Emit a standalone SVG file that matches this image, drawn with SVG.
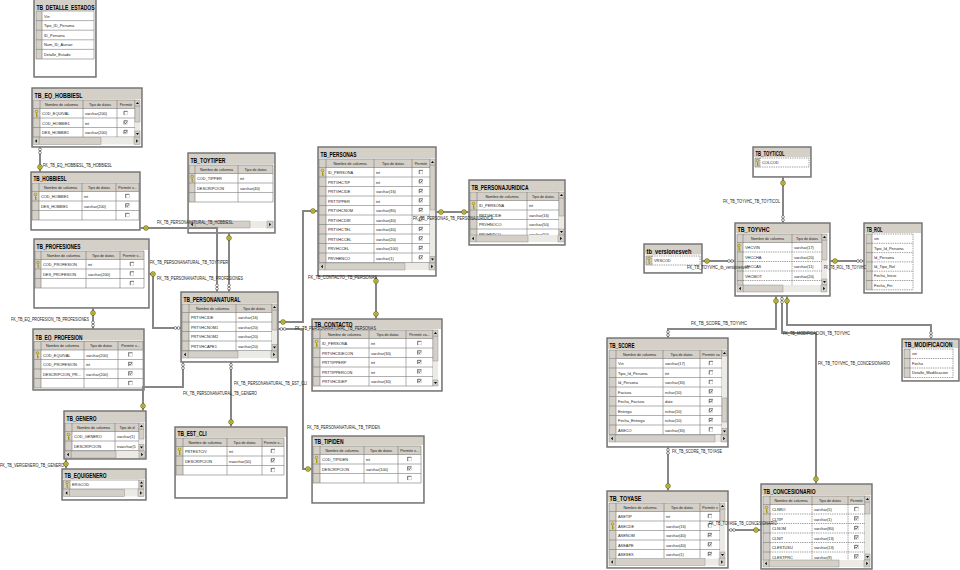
<svg xmlns="http://www.w3.org/2000/svg" xmlns:xlink="http://www.w3.org/1999/xlink" width="960" height="570" viewBox="0 0 960 570">
<style>
.fr{fill:#d4d0c8;stroke:#6f6f6f;stroke-width:1.4}
.bd{fill:#fff}
.hd{fill:#d4d0c8}
.gl{fill:none;stroke:#7b7b7b;stroke-width:.6}
.gd{fill:none;stroke:#5f5f5f;stroke-width:.6;stroke-dasharray:1.4 .9}
.tr{fill:#eceae5}
.bt{fill:#d4d0c8;stroke:#808080;stroke-width:.4}
.tt{font-family:"Liberation Sans",Arial,sans-serif;font-weight:bold;font-size:7.5px;fill:#000}
.c{font-family:"Liberation Sans",Arial,sans-serif;font-size:3.9px;fill:#222}
.h{font-family:"Liberation Sans",Arial,sans-serif;font-size:3.7px;fill:#222;text-anchor:middle}
.lb{font-family:"Liberation Sans",Arial,sans-serif;font-size:5px;fill:#222}
.cn{fill:none;stroke:#868686;stroke-width:2}
.io{fill:#fff;stroke:#444;stroke-width:.6}
</style>
<defs>
<g id="k"><circle cx="2.5" cy="2" r="1.3" fill="none" stroke="#a89400" stroke-width=".9"/><path d="M2.5,3.3V7.3M2.5,5.3H3.8M2.5,6.8H3.8" fill="none" stroke="#a89400" stroke-width=".9"/></g>
<g id="c0"><rect width="3.6" height="3.6" fill="#fff" stroke="#aaa" stroke-width=".4"/><path d="M0,3.6V0H3.6" fill="none" stroke="#333" stroke-width=".6"/></g>
<g id="c1"><rect width="3.6" height="3.6" fill="#fff" stroke="#aaa" stroke-width=".4"/><path d="M0,3.6V0H3.6" fill="none" stroke="#333" stroke-width=".6"/><path d="M0.7,1.8L1.6,2.8L3,0.8" fill="none" stroke="#000" stroke-width=".6"/></g>
<g id="bu"><rect width="5" height="6" class="bt"/><path d="M1,4H4L2.5,2z"/></g>
<g id="bd"><rect width="5" height="6" class="bt"/><path d="M1,2H4L2.5,4z"/></g>
<g id="bl"><rect width="6" height="7" class="bt"/><path d="M3.8,1.8V5.2L2,3.5z"/></g>
<g id="br"><rect width="6" height="7" class="bt"/><path d="M2.2,1.8V5.2L4,3.5z"/></g>
<g id="ck"><circle r="2.3" fill="#ddd55a" stroke="#5e5e00" stroke-width=".8"/><circle r=".7" fill="#5e5e00"/></g>
<g id="iv"><circle cy="-1.6" r="1.4" class="io"/><circle cy="1.6" r="1.4" class="io"/></g>
<g id="ih"><circle cx="-1.6" r="1.4" class="io"/><circle cx="1.6" r="1.4" class="io"/></g>
</defs>
<rect width="960" height="570" fill="#fff"/>

<g id="tb_detalle_estados" transform="translate(34,0)">
<rect class="fr" y="-2" width="62" height="79"/>
<text class="tt" x="2.5" y="9.5" textLength="58" lengthAdjust="spacingAndGlyphs">TB_DETALLE_ESTADOS</text>
<rect class="bd" x="1" y="10.5" width="60" height="65.5"/>
<rect class="hd" x="2" y="11" width="6" height="48"/>
<path class="gl" d="M2,11H60M2,20.6H60M2,30.2H60M2,39.8H60M2,49.4H60M2,59H60M2,11V59M8,11V59M60,11V59"/>
<text class="c" x="10" y="17.5">Vin</text>
<text class="c" x="10" y="27.1">Tipo_ID_Persona</text>
<text class="c" x="10" y="36.7">ID_Persona</text>
<text class="c" x="10" y="46.3">Num_ID_Asesor</text>
<text class="c" x="10" y="55.9">Detalle_Estado</text>
</g>

<g id="tb_eq_hobbiesl" transform="translate(32,88)">
<rect class="fr" width="110" height="59"/>
<text class="tt" x="2.5" y="10.2" textLength="48" lengthAdjust="spacingAndGlyphs">TB_EQ_HOBBIESL</text>
<rect class="bd" x="1" y="11" width="108" height="47"/>
<rect class="hd" x="1" y="12" width="102" height="8.5"/>
<rect class="hd" x="1" y="20.5" width="7" height="28.5"/>
<path class="gl" d="M1,12H103M1,20.5H103M1,30H103M1,39.5H103M1,49H103M1,12V49M8,12V49M51,12V49M85,12V49M103,12V49"/>
<text class="h" x="29.5" y="17.8">Nombre de columna</text><text class="h" x="68" y="17.8">Tipo de datos</text><text class="h" x="94" y="17.8">Permitir</text>
<use href="#k" x="2" y="21.5"/>
<text class="c" x="10" y="27">COD_EQUIVAL</text><text class="c" x="53" y="27">varchar(200)</text><use href="#c0" x="92" y="23.3"/>
<text class="c" x="10" y="36.5">COD_HOBBIE1</text><text class="c" x="53" y="36.5">int</text><use href="#c1" x="92" y="32.8"/>
<text class="c" x="10" y="46">DES_HOBBIE1</text><text class="c" x="53" y="46">varchar(200)</text><use href="#c1" x="92" y="42.3"/>
<rect class="tr" x="103" y="12" width="5" height="37"/><rect class="bt" x="103" y="18" width="5" height="16"/><use href="#bu" x="103" y="12"/><use href="#bd" x="103" y="43"/>
<rect class="tr" x="1" y="49.5" width="107" height="7"/><rect class="bt" x="7" y="49.5" width="62" height="7"/><use href="#bl" x="1" y="49.5"/><use href="#br" x="102" y="49.5"/>
</g>

<g id="tb_hobbiesl" transform="translate(31,172)">
<rect class="fr" width="109" height="58"/>
<text class="tt" x="2.5" y="9.3" textLength="33" lengthAdjust="spacingAndGlyphs">TB_HOBBIESL</text>
<rect class="bd" x="1" y="10" width="107" height="47"/>
<rect class="hd" x="1" y="11" width="107" height="8.5"/>
<rect class="hd" x="1" y="19.5" width="7" height="28.5"/>
<path class="gl" d="M1,11H108M1,19.5H108M1,29H108M1,38.5H108M1,48H108M1,11V48M8,11V48M51,11V48M85,11V48M108,11V48"/>
<text class="h" x="29.5" y="16.8">Nombre de columna</text><text class="h" x="68" y="16.8">Tipo de datos</text><text class="h" x="96.5" y="16.8">Permitir v...</text>
<use href="#k" x="2" y="20.5"/>
<text class="c" x="10" y="26">COD_HOBBIE1</text><text class="c" x="53" y="26">int</text><use href="#c0" x="94.7" y="22.3"/>
<text class="c" x="10" y="35.5">DES_HOBBIE1</text><text class="c" x="53" y="35.5">varchar(200)</text><use href="#c1" x="94.7" y="31.8"/>
<use href="#c0" x="94.7" y="41.3"/>
</g>

<g id="tb_profesiones" transform="translate(34,239)">
<rect class="fr" width="115" height="69"/>
<text class="tt" x="2.5" y="10.2" textLength="44" lengthAdjust="spacingAndGlyphs">TB_PROFESIONES</text>
<rect class="bd" x="1" y="11" width="113" height="57"/>
<rect class="hd" x="1" y="12" width="109" height="8.5"/>
<rect class="hd" x="1" y="20.5" width="6" height="28.5"/>
<path class="gl" d="M1,12H110M1,20.5H110M1,30H110M1,39.5H110M1,49H110M1,12V49M7,12V49M52,12V49M86,12V49M110,12V49"/>
<text class="h" x="29.5" y="17.8">Nombre de columna</text><text class="h" x="69" y="17.8">Tipo de datos</text><text class="h" x="98" y="17.8">Permitir v...</text>
<use href="#k" x="1.5" y="21.5"/>
<text class="c" x="9" y="27">COD_PROFESION</text><text class="c" x="54" y="27">int</text><use href="#c0" x="96.2" y="23.3"/>
<text class="c" x="9" y="36.5">DES_PROFESION</text><text class="c" x="54" y="36.5">varchar(200)</text><use href="#c0" x="96.2" y="32.8"/>
<use href="#c0" x="96.2" y="42.3"/>
</g>

<g id="tb_eq_profesion" transform="translate(33,329)">
<rect class="fr" width="111" height="61"/>
<text class="tt" x="2.5" y="10.7" textLength="47" lengthAdjust="spacingAndGlyphs">TB_EQ_PROFESION</text>
<rect class="bd" x="1" y="11.5" width="109" height="48.5"/>
<rect class="hd" x="1" y="12.5" width="109" height="8.5"/>
<rect class="hd" x="1" y="21" width="7" height="38"/>
<path class="gl" d="M1,12.5H110M1,21H110M1,30.5H110M1,40H110M1,49.5H110M1,59H110M1,12.5V59M8,12.5V59M51,12.5V59M85,12.5V59M110,12.5V59"/>
<text class="h" x="29.5" y="18.3">Nombre de columna</text><text class="h" x="68" y="18.3">Tipo de datos</text><text class="h" x="97.5" y="18.3">Permitir v...</text>
<use href="#k" x="2" y="22"/>
<text class="c" x="10" y="27.5">COD_EQUIVAL</text><text class="c" x="53" y="27.5">varchar(200)</text><use href="#c0" x="95.7" y="23.8"/>
<text class="c" x="10" y="37">COD_PROFESION</text><text class="c" x="53" y="37">int</text><use href="#c1" x="95.7" y="33.3"/>
<text class="c" x="10" y="46.5">DESCRIPCION_PR...</text><text class="c" x="53" y="46.5">varchar(200)</text><use href="#c1" x="95.7" y="42.8"/>
<use href="#c0" x="95.7" y="52.3"/>
</g>

<g id="tb_genero" transform="translate(64,411)">
<rect class="fr" width="82" height="48"/>
<text class="tt" x="2.5" y="10.2" textLength="30" lengthAdjust="spacingAndGlyphs">TB_GENERO</text>
<rect class="bd" x="1" y="11" width="80" height="36"/>
<rect class="hd" x="1" y="12" width="74" height="8.5"/>
<rect class="hd" x="1" y="20.5" width="7" height="19"/>
<path class="gl" d="M1,12H75M1,20.5H75M1,30H75M1,39.5H75M1,12V39.5M8,12V39.5M51,12V39.5M75,12V39.5"/>
<text class="h" x="29.5" y="17.8">Nombre de columna</text><text class="h" x="63" y="17.8">Tipo de d</text>
<use href="#k" x="2" y="21.5"/>
<text class="c" x="10" y="27">COD_GENERO</text><text class="c" x="53" y="27">varchar(1)</text>
<text class="c" x="10" y="36.5">DESCRIPCION</text><text class="c" x="53" y="36.5">nvarchar(5</text>
<rect class="tr" x="75" y="12" width="5" height="27.5"/><rect class="bt" x="75" y="18" width="5" height="10"/><use href="#bu" x="75" y="12"/><use href="#bd" x="75" y="33.5"/>
<rect class="tr" x="1" y="40" width="80" height="7"/><rect class="bt" x="7" y="40" width="45" height="7"/><use href="#bl" x="1" y="40"/><use href="#br" x="75" y="40"/>
</g>

<g id="tb_equigenero" transform="translate(62,469)">
<rect class="fr" width="84" height="31"/>
<text class="tt" x="2.5" y="9" textLength="42" lengthAdjust="spacingAndGlyphs">TB_EQUIGENERO</text>
<rect class="bd" x="1" y="10" width="82" height="20"/>
<rect class="hd" x="1.5" y="11" width="6.5" height="9"/>
<path class="gl" d="M1.5,11H77M1.5,20H77M1.5,11V20M8,11V20M77,11V20"/>
<use href="#k" x="2.5" y="11.5"/>
<text class="c" x="10" y="17.3">ERGCOD</text>
<rect class="bt" x="77" y="11" width="5" height="9"/><path d="M78,14.5H81L79.5,12.5zM78,16.5H81L79.5,18.5z"/>
<rect class="tr" x="1.5" y="20.5" width="80.5" height="7"/><rect class="bt" x="7.5" y="20.5" width="55" height="7"/><use href="#bl" x="1.5" y="20.5"/><use href="#br" x="76" y="20.5"/>
</g>

<g id="tb_toytiper" transform="translate(188,153)">
<rect class="fr" width="87" height="80"/>
<text class="tt" x="2.5" y="10.2" textLength="35" lengthAdjust="spacingAndGlyphs">TB_TOYTIPER</text>
<rect class="bd" x="1" y="11" width="85" height="68"/>
<rect class="hd" x="1" y="12" width="84" height="8.5"/>
<rect class="hd" x="1" y="20.5" width="6" height="28.5"/>
<path class="gl" d="M1,12H85M1,20.5H85M1,30H85M1,39.5H85M1,49H85M1,12V49M7,12V49M50,12V49M85,12V49"/>
<text class="h" x="28.5" y="17.8">Nombre de columna</text><text class="h" x="67.5" y="17.8">Tipo de datos</text>
<use href="#k" x="1.5" y="21.5"/>
<text class="c" x="9" y="27">COD_TIPPER</text><text class="c" x="52" y="27">int</text>
<text class="c" x="9" y="36.5">DESCRIPCION</text><text class="c" x="52" y="36.5">varchar(40)</text>
<rect class="tr" x="1" y="68" width="85" height="7"/><rect class="bt" x="7" y="68" width="55" height="7"/><use href="#bl" x="1" y="68"/><use href="#br" x="79" y="68"/>
</g>

<g id="tb_personas" transform="translate(318,147)">
<rect class="fr" width="118" height="129"/>
<text class="tt" x="2.5" y="10.2" textLength="36" lengthAdjust="spacingAndGlyphs">TB_PERSONAS</text>
<rect class="bd" x="1" y="11" width="116" height="117"/>
<rect class="hd" x="1" y="12" width="111" height="8.5"/>
<rect class="hd" x="1" y="20.5" width="7" height="95"/>
<path class="gl" d="M1,12H112M1,20.5H112M1,30H112M1,39.5H112M1,49H112M1,58.5H112M1,68H112M1,77.5H112M1,87H112M1,96.5H112M1,106H112M1,115.5H112M1,12V115.5M8,12V115.5M56,12V115.5M94,12V115.5M112,12V115.5"/>
<text class="h" x="32" y="17.8">Nombre de columna</text><text class="h" x="75" y="17.8">Tipo de datos</text><text class="h" x="103" y="17.8">Permitir</text>
<use href="#k" x="2" y="21.5"/>
<text class="c" x="10" y="27">ID_PERSONA</text><text class="c" x="58" y="27">int</text><use href="#c0" x="101.2" y="23.3"/>
<text class="c" x="10" y="36.5">PRTVHCTIP</text><text class="c" x="58" y="36.5">int</text><use href="#c1" x="101.2" y="32.8"/>
<text class="c" x="10" y="46">PRTVHCIDE</text><text class="c" x="58" y="46">varchar(16)</text><use href="#c1" x="101.2" y="42.3"/>
<text class="c" x="10" y="55.5">PRTTIPPER</text><text class="c" x="58" y="55.5">int</text><use href="#c1" x="101.2" y="51.8"/>
<text class="c" x="10" y="65">PRTVHCNOM</text><text class="c" x="58" y="65">varchar(80)</text><use href="#c1" x="101.2" y="61.3"/>
<text class="c" x="10" y="74.5">PRTVHCDIR</text><text class="c" x="58" y="74.5">varchar(40)</text><use href="#c1" x="101.2" y="70.8"/>
<text class="c" x="10" y="84">PRTVHCTEL</text><text class="c" x="58" y="84">varchar(40)</text><use href="#c1" x="101.2" y="80.3"/>
<text class="c" x="10" y="93.5">PRTVHCCEL</text><text class="c" x="58" y="93.5">varchar(20)</text><use href="#c1" x="101.2" y="89.8"/>
<text class="c" x="10" y="103">PRVHCCEL</text><text class="c" x="58" y="103">varchar(100)</text><use href="#c1" x="101.2" y="99.3"/>
<text class="c" x="10" y="112.5">PRVHENCO</text><text class="c" x="58" y="112.5">varchar(1)</text><use href="#c1" x="101.2" y="108.8"/>
<rect class="tr" x="112" y="12" width="5" height="103.5"/><rect class="bt" x="112" y="18" width="5" height="45"/><use href="#bu" x="112" y="12"/><use href="#bd" x="112" y="109.5"/>
<rect class="tr" x="1" y="116" width="116" height="7"/><rect class="bt" x="7" y="116" width="80" height="7"/><use href="#bl" x="1" y="116"/><use href="#br" x="111" y="116"/>
</g>

<g id="tb_personajuridica" transform="translate(469,180)">
<rect class="fr" width="96" height="65"/>
<text class="tt" x="2.5" y="10.2" textLength="57" lengthAdjust="spacingAndGlyphs">TB_PERSONAJURIDICA</text>
<rect class="bd" x="1" y="11" width="94" height="53"/>
<rect class="hd" x="1" y="12" width="89" height="8.5"/>
<rect class="hd" x="1" y="20.5" width="7" height="35"/>
<path class="gl" d="M1,12H90M1,20.5H90M1,30H90M1,39.5H90M1,49H90M1,12V55M8,12V55M58,12V55M90,12V55"/>
<text class="h" x="33" y="17.8">Nombre de columna</text><text class="h" x="74" y="17.8">Tipo de datos</text>
<use href="#k" x="2" y="21.5"/>
<text class="c" x="10" y="27">ID_PERSONA</text><text class="c" x="60" y="27">int</text>
<text class="c" x="10" y="36.5">PRTVHCIDE</text><text class="c" x="60" y="36.5">varchar(16)</text>
<text class="c" x="10" y="46">PRVHNOCO</text><text class="c" x="60" y="46">varchar(50)</text>
<text class="c" x="10" y="55.5">PRVHNTCO</text><text class="c" x="60" y="55.5">varchar(50)</text>
<rect class="tr" x="90" y="12" width="5" height="43"/><rect class="bt" x="90" y="18" width="5" height="18"/><use href="#bu" x="90" y="12"/><use href="#bd" x="90" y="49"/>
<rect class="tr" x="1" y="55" width="94" height="7"/><rect class="bt" x="7" y="55" width="52" height="7"/><use href="#bl" x="1" y="55"/><use href="#br" x="89" y="55"/>
</g>

<g id="tb_personanatural" transform="translate(181,292)">
<rect class="fr" width="97" height="70"/>
<text class="tt" x="2.5" y="10.2" textLength="57" lengthAdjust="spacingAndGlyphs">TB_PERSONANATURAL</text>
<rect class="bd" x="1" y="11" width="95" height="58"/>
<rect class="hd" x="1" y="12" width="90" height="8.5"/>
<rect class="hd" x="1" y="20.5" width="7" height="38"/>
<path class="gl" d="M1,12H91M1,20.5H91M1,30H91M1,39.5H91M1,49H91M1,58.5H91M1,12V58.5M8,12V58.5M55,12V58.5M91,12V58.5"/>
<text class="h" x="31.5" y="17.8">Nombre de columna</text><text class="h" x="73" y="17.8">Tipo de datos</text>
<text class="c" x="10" y="27">PRTVHCIDE</text><text class="c" x="57" y="27">varchar(16)</text>
<text class="c" x="10" y="36.5">PRTVHCNOM1</text><text class="c" x="57" y="36.5">varchar(20)</text>
<text class="c" x="10" y="46">PRTVHCNOM2</text><text class="c" x="57" y="46">varchar(20)</text>
<text class="c" x="10" y="55.5">PRTVHCAPE1</text><text class="c" x="57" y="55.5">varchar(20)</text>
<rect class="tr" x="91" y="12" width="5" height="46.5"/><rect class="bt" x="91" y="18" width="5" height="20"/><use href="#bu" x="91" y="12"/><use href="#bd" x="91" y="52.5"/>
<rect class="tr" x="1" y="59" width="95" height="7"/><rect class="bt" x="7" y="59" width="50" height="7"/><use href="#bl" x="1" y="59"/><use href="#br" x="90" y="59"/>
</g>

<g id="tb_contacto" transform="translate(312,319)">
<rect class="fr" width="130" height="72"/>
<text class="tt" x="2.5" y="8" textLength="38" lengthAdjust="spacingAndGlyphs">TB_CONTACTO</text>
<rect class="bd" x="1" y="10" width="128" height="61"/>
<rect class="hd" x="1" y="11" width="120" height="8.5"/>
<rect class="hd" x="1" y="19.5" width="7" height="47.5"/>
<path class="gl" d="M1,11H121M1,19.5H121M1,29H121M1,38.5H121M1,48H121M1,57.5H121M1,67H121M1,11V67M8,11V67M57,11V67M94,11V67M121,11V67"/>
<text class="h" x="32.5" y="16.8">Nombre de columna</text><text class="h" x="75.5" y="16.8">Tipo de datos</text><text class="h" x="107.5" y="16.8">Permitir va...</text>
<use href="#k" x="2" y="20.5"/>
<text class="c" x="10" y="26">ID_PERSONA</text><text class="c" x="59" y="26">int</text><use href="#c0" x="105.7" y="22.3"/>
<text class="c" x="10" y="35.5">PRTVHCIDECON</text><text class="c" x="59" y="35.5">varchar(30)</text><use href="#c1" x="105.7" y="31.8"/>
<text class="c" x="10" y="45">PRTTIPPERP</text><text class="c" x="59" y="45">int</text><use href="#c1" x="105.7" y="41.3"/>
<text class="c" x="10" y="54.5">PRTTIPPERCON</text><text class="c" x="59" y="54.5">int</text><use href="#c1" x="105.7" y="50.8"/>
<text class="c" x="10" y="64">PRTVHCIDEP</text><text class="c" x="59" y="64">varchar(30)</text><use href="#c1" x="105.7" y="60.3"/>
<rect class="tr" x="121" y="11" width="5" height="56"/><rect class="bt" x="121" y="17" width="5" height="25"/><use href="#bu" x="121" y="11"/><use href="#bd" x="121" y="61"/>
</g>

<g id="tb_est_cli" transform="translate(175,427)">
<rect class="fr" width="112" height="71"/>
<text class="tt" x="2.5" y="9.2" textLength="29" lengthAdjust="spacingAndGlyphs">TB_EST_CLI</text>
<rect class="bd" x="1" y="10" width="110" height="60"/>
<rect class="hd" x="1" y="11" width="108" height="8.5"/>
<rect class="hd" x="1" y="19.5" width="7" height="28.5"/>
<path class="gl" d="M1,11H109M1,19.5H109M1,29H109M1,38.5H109M1,48H109M1,11V48M8,11V48M52,11V48M87,11V48M109,11V48"/>
<text class="h" x="30" y="16.8">Nombre de columna</text><text class="h" x="69.5" y="16.8">Tipo de datos</text><text class="h" x="98" y="16.8">Permitir v...</text>
<use href="#k" x="2" y="20.5"/>
<text class="c" x="10" y="26">PRTESTCIV</text><text class="c" x="54" y="26">int</text><use href="#c0" x="96.2" y="22.3"/>
<text class="c" x="10" y="35.5">DESCRIPCION</text><text class="c" x="54" y="35.5">nvarchar(50)</text><use href="#c1" x="96.2" y="31.8"/>
<use href="#c0" x="96.2" y="41.3"/>
</g>

<g id="tb_tipiden" transform="translate(312,436)">
<rect class="fr" width="112" height="67"/>
<text class="tt" x="2.5" y="8.4" textLength="29" lengthAdjust="spacingAndGlyphs">TB_TIPIDEN</text>
<rect class="bd" x="1" y="9" width="110" height="57"/>
<rect class="hd" x="1" y="10" width="108" height="8.5"/>
<rect class="hd" x="1" y="18.5" width="7" height="28.5"/>
<path class="gl" d="M1,10H109M1,18.5H109M1,28H109M1,37.5H109M1,47H109M1,10V47M8,10V47M52,10V47M86,10V47M109,10V47"/>
<text class="h" x="30" y="15.8">Nombre de columna</text><text class="h" x="69" y="15.8">Tipo de datos</text><text class="h" x="97.5" y="15.8">Permitir v...</text>
<use href="#k" x="2" y="19.5"/>
<text class="c" x="10" y="25">COD_TIPIDEN</text><text class="c" x="54" y="25">int</text><use href="#c0" x="95.7" y="21.3"/>
<text class="c" x="10" y="34.5">DESCRIPCION</text><text class="c" x="54" y="34.5">varchar(100)</text><use href="#c1" x="95.7" y="30.8"/>
<use href="#c0" x="95.7" y="40.3"/>
</g>

<g id="tb_toyticol" transform="translate(753,147)">
<rect class="fr" width="58" height="30"/>
<text class="tt" x="2.5" y="9.2" textLength="29" lengthAdjust="spacingAndGlyphs">TB_TOYTICOL</text>
<rect class="bd" x="1" y="10" width="56" height="19"/>
<rect class="hd" x="2" y="11" width="5" height="9"/>
<path class="gl" d="M2,11H7M2,20H7M2,11V20"/>
<rect class="gd" x="7" y="11" width="49" height="9"/>
<use href="#k" x="2" y="11.5"/>
<text class="c" x="9" y="17.3">COLCOD</text>
</g>

<g id="tb_toyvhc" transform="translate(735,223)">
<rect class="fr" width="95" height="73"/>
<text class="tt" x="2.5" y="9.2" textLength="32" lengthAdjust="spacingAndGlyphs">TB_TOYVHC</text>
<rect class="bd" x="1" y="10" width="93" height="62"/>
<rect class="hd" x="2" y="11" width="85" height="8.5"/>
<rect class="hd" x="2" y="19.5" width="6" height="42.5"/>
<path class="gl" d="M2,11H87M2,19.5H87M2,11V62M8,11V62M57,11V19.5M87,11V62M2,29H8M2,38.5H8M2,48H8M2,57.5H8"/>
<path class="gd" d="M8,29H87M8,38.5H87M8,48H87M8,57.5H87M57,19.5V62"/>
<text class="h" x="32.5" y="16.8">Nombre de columna</text><text class="h" x="72" y="16.8">Tipo de datos</text>
<use href="#k" x="1.5" y="20.5"/>
<text class="c" x="10" y="26">VHCVIN</text><text class="c" x="59" y="26">varchar(17)</text>
<text class="c" x="10" y="35.5">VHCCHA</text><text class="c" x="59" y="35.5">varchar(20)</text>
<text class="c" x="10" y="45">VHCCAS</text><text class="c" x="59" y="45">varchar(11)</text>
<text class="c" x="10" y="54.5">VHCMOT</text><text class="c" x="59" y="54.5">varchar(20)</text>
<rect class="tr" x="87" y="11" width="5" height="51"/><rect class="bt" x="87" y="17" width="5" height="20"/><use href="#bu" x="87" y="11"/><use href="#bd" x="87" y="56"/>
<rect class="tr" x="2" y="62" width="90" height="7"/><rect class="bt" x="8" y="62" width="40" height="7"/><use href="#bl" x="2" y="62"/><use href="#br" x="86" y="62"/>
</g>

<g id="tb_versionesveh" transform="translate(644,244)">
<rect class="fr" width="58" height="29"/>
<text class="tt" x="2.5" y="9.7" textLength="45" lengthAdjust="spacingAndGlyphs">tb_versionesveh</text>
<rect class="bd" x="1" y="10.5" width="56" height="17.5"/>
<rect class="hd" x="2" y="12" width="6" height="9"/>
<path class="gl" d="M2,12H8M2,21H8M2,12V21"/>
<rect class="gd" x="8" y="12" width="48" height="9"/>
<use href="#k" x="2.5" y="12.5"/>
<text class="c" x="10" y="18.3">VRSCOD</text>
</g>

<g id="tb_rol" transform="translate(864,223)">
<rect class="fr" width="58" height="70"/>
<text class="tt" x="2.5" y="9.2" textLength="16" lengthAdjust="spacingAndGlyphs">TB_ROL</text>
<rect class="bd" x="1" y="10" width="56" height="59"/>
<rect class="hd" x="2" y="11" width="6" height="55.8"/>
<path class="gl" d="M2,11V66.8M8,11V66.8M2,11H8M2,20.3H8M2,29.6H8M2,38.9H8M2,48.2H8M2,57.5H8M2,66.8H8"/>
<path class="gd" d="M8,11H49M8,20.3H49M8,29.6H49M8,38.9H49M8,48.2H49M8,57.5H49M8,66.8H49M49,11V66.8"/>
<text class="c" x="10" y="17.2">vin</text>
<text class="c" x="10" y="26.5">Tipo_Id_Persona</text>
<text class="c" x="10" y="35.8">Id_Persona</text>
<text class="c" x="10" y="45.1">Id_Tipo_Rol</text>
<text class="c" x="10" y="54.4">Fecha_Inicio</text>
<text class="c" x="10" y="63.7">Fecha_Fin</text>
</g>

<g id="tb_modificacion" transform="translate(902,339)">
<rect class="fr" width="57" height="42"/>
<text class="tt" x="2.5" y="8.2" textLength="48" lengthAdjust="spacingAndGlyphs">TB_MODIFICACION</text>
<rect class="bd" x="1" y="9" width="55" height="32"/>
<rect class="hd" x="2" y="10" width="6" height="28.5"/>
<path class="gl" d="M2,10V38.5M8,10V38.5M2,10H8M2,19.5H8M2,29H8M2,38.5H8"/>
<path class="gd" d="M8,10H51M8,19.5H51M8,29H51M8,38.5H51M51,10V38.5"/>
<text class="c" x="10" y="16.3">vin</text>
<text class="c" x="10" y="25.8">Fecha</text>
<text class="c" x="10" y="35.3">Detalle_Modificacion</text>
</g>

<g id="tb_score" transform="translate(607,338)">
<rect class="fr" width="121" height="109"/>
<text class="tt" x="2.5" y="10.2" textLength="25" lengthAdjust="spacingAndGlyphs">TB_SCORE</text>
<rect class="bd" x="1" y="11" width="119" height="97"/>
<rect class="hd" x="2" y="12" width="113" height="8.5"/>
<rect class="hd" x="2" y="20.5" width="7" height="76"/>
<path class="gl" d="M2,12H115M2,20.5H115M2,30H115M2,39.5H115M2,49H115M2,58.5H115M2,68H115M2,77.5H115M2,87H115M2,96.5H115M2,12V96.5M9,12V96.5M56,12V96.5M93,12V96.5M115,12V96.5"/>
<text class="h" x="32.5" y="17.8">Nombre de columna</text><text class="h" x="74.5" y="17.8">Tipo de datos</text><text class="h" x="104" y="17.8">Permitir va</text>
<text class="c" x="11" y="27">Vin</text><text class="c" x="58" y="27">varchar(17)</text><use href="#c0" x="102.2" y="23.3"/>
<text class="c" x="11" y="36.5">Tipo_Id_Persona</text><text class="c" x="58" y="36.5">int</text><use href="#c0" x="102.2" y="32.8"/>
<text class="c" x="11" y="46">Id_Persona</text><text class="c" x="58" y="46">varchar(30)</text><use href="#c0" x="102.2" y="42.3"/>
<text class="c" x="11" y="55.5">Factura</text><text class="c" x="58" y="55.5">nchar(10)</text><use href="#c1" x="102.2" y="51.8"/>
<text class="c" x="11" y="65">Fecha_Factura</text><text class="c" x="58" y="65">date</text><use href="#c1" x="102.2" y="61.3"/>
<text class="c" x="11" y="74.5">Entrega</text><text class="c" x="58" y="74.5">nchar(10)</text><use href="#c1" x="102.2" y="70.8"/>
<text class="c" x="11" y="84">Fecha_Entrega</text><text class="c" x="58" y="84">nchar(10)</text><use href="#c1" x="102.2" y="80.3"/>
<text class="c" x="11" y="93.5">ASECO</text><text class="c" x="58" y="93.5">varchar(30)</text><use href="#c0" x="102.2" y="89.8"/>
<rect class="tr" x="115" y="12" width="5" height="84.5"/><rect class="bt" x="115" y="60" width="5" height="24"/><use href="#bu" x="115" y="12"/><use href="#bd" x="115" y="90.5"/>
<rect class="tr" x="2" y="97" width="118" height="7"/><rect class="bt" x="8" y="97" width="100" height="7"/><use href="#bl" x="2" y="97"/><use href="#br" x="114" y="97"/>
</g>

<g id="tb_toyase" transform="translate(607,491)">
<rect class="fr" width="121" height="77"/>
<text class="tt" x="2.5" y="10.2" textLength="32" lengthAdjust="spacingAndGlyphs">TB_TOYASE</text>
<rect class="bd" x="1" y="11" width="119" height="65"/>
<rect class="hd" x="2" y="12" width="111" height="8.5"/>
<rect class="hd" x="2" y="20.5" width="7" height="47.5"/>
<path class="gl" d="M2,12H113M2,20.5H113M2,30H113M2,39.5H113M2,49H113M2,58.5H113M2,12V67M9,12V67M57,12V67M93,12V67M113,12V67"/>
<text class="h" x="33" y="17.8">Nombre de columna</text><text class="h" x="75" y="17.8">Tipo de datos</text><text class="h" x="103" y="17.8">Permitir v</text>
<text class="c" x="11" y="27">ASETIP</text><text class="c" x="59" y="27">int</text><use href="#c0" x="101.2" y="23.3"/>
<use href="#k" x="3" y="31"/>
<text class="c" x="11" y="36.5">ASECDE</text><text class="c" x="59" y="36.5">varchar(16)</text><use href="#c0" x="101.2" y="32.8"/>
<text class="c" x="11" y="46">ASENOM</text><text class="c" x="59" y="46">varchar(40)</text><use href="#c1" x="101.2" y="42.3"/>
<text class="c" x="11" y="55.5">ASEAPE</text><text class="c" x="59" y="55.5">varchar(40)</text><use href="#c1" x="101.2" y="51.8"/>
<text class="c" x="11" y="65">ASESEX</text><text class="c" x="59" y="65">varchar(1)</text><use href="#c1" x="101.2" y="61.3"/>
<rect class="tr" x="113" y="12" width="5" height="55"/><rect class="bt" x="113" y="18" width="5" height="12"/><use href="#bu" x="113" y="12"/><use href="#bd" x="113" y="61"/>
<rect class="tr" x="2" y="67.5" width="116" height="7"/><rect class="bt" x="8" y="67.5" width="90" height="7"/><use href="#bl" x="2" y="67.5"/><use href="#br" x="112" y="67.5"/>
</g>

<g id="tb_concesionario" transform="translate(761,484)">
<rect class="fr" width="111" height="85"/>
<text class="tt" x="2.5" y="10.2" textLength="52" lengthAdjust="spacingAndGlyphs">TB_CONCESIONARIO</text>
<rect class="bd" x="1" y="11" width="109" height="73"/>
<rect class="hd" x="2" y="12" width="102" height="8.5"/>
<rect class="hd" x="2" y="20.5" width="7" height="55.5"/>
<path class="gl" d="M2,12H104M2,20.5H104M2,12V76M9,12V76M51,12V20.5M87,12V20.5M104,12V76M2,30H9M2,39.5H9M2,49H9M2,58.5H9M2,68H9"/>
<path class="gd" d="M9,30H104M9,39.5H104M9,49H104M9,58.5H104M9,68H104M51,20.5V76M87,20.5V76"/>
<text class="h" x="30" y="17.8">Nombre de columna</text><text class="h" x="69" y="17.8">Tipo de datos</text><text class="h" x="95.5" y="17.8">Permitir</text>
<use href="#k" x="3" y="21.5"/>
<text class="c" x="11" y="27">CLNRO</text><text class="c" x="53" y="27">varchar(5)</text><use href="#c0" x="93.7" y="23.3"/>
<text class="c" x="11" y="36.5">CLTIP</text><text class="c" x="53" y="36.5">varchar(1)</text><use href="#c1" x="93.7" y="32.8"/>
<text class="c" x="11" y="46">CLNOM</text><text class="c" x="53" y="46">varchar(80)</text><use href="#c1" x="93.7" y="42.3"/>
<text class="c" x="11" y="55.5">CLNIT</text><text class="c" x="53" y="55.5">varchar(13)</text><use href="#c1" x="93.7" y="51.8"/>
<text class="c" x="11" y="65">CLESTUSU</text><text class="c" x="53" y="65">varchar(13)</text><use href="#c1" x="93.7" y="61.3"/>
<text class="c" x="11" y="74.5">CLESTPRC</text><text class="c" x="53" y="74.5">varchar(9)</text><use href="#c1" x="93.7" y="70.8"/>
<rect class="tr" x="104" y="12" width="5" height="64"/><rect class="bt" x="104" y="18" width="5" height="12"/><use href="#bu" x="104" y="12"/><use href="#bd" x="104" y="70"/>
<rect class="tr" x="2" y="76" width="107" height="7"/><rect class="bt" x="8" y="76" width="70" height="7"/><use href="#bl" x="2" y="76"/><use href="#br" x="103" y="76"/>
</g>

<g id="connectors">
<path class="cn" d="M40,147V172"/><use href="#iv" x="40" y="151"/><use href="#ck" x="40" y="167"/>
<path class="cn" d="M140,228H217V292"/><use href="#ck" x="146" y="228"/><use href="#iv" x="217" y="287"/>
<path class="cn" d="M229,233V292"/><use href="#ck" x="229" y="238"/><use href="#iv" x="229" y="287"/>
<path class="cn" d="M149,274H153V328H181"/><use href="#ck" x="153" y="274"/><use href="#ih" x="177" y="328"/>
<path class="cn" d="M93,308V329"/><use href="#ck" x="93" y="313"/><use href="#iv" x="93" y="324"/>
<path class="cn" d="M183,362V387H143V411"/><use href="#iv" x="183" y="366.5"/><use href="#ck" x="143" y="406"/>
<path class="cn" d="M231,362V427"/><use href="#iv" x="231" y="366.5"/><use href="#ck" x="231" y="422"/>
<path class="cn" d="M66,459V469"/><use href="#ck" x="66" y="464"/>
<path class="cn" d="M278,322H303V211H318"/><use href="#ck" x="283" y="322"/><use href="#ck" x="313" y="211"/>
<path class="cn" d="M278,329H303V469H312"/><use href="#ih" x="283" y="329"/><use href="#ck" x="308" y="469"/>
<path class="cn" d="M376,276V319"/><use href="#ck" x="376" y="281"/><use href="#ck" x="376" y="314"/>
<path class="cn" d="M436,212H469"/><use href="#ck" x="441" y="212"/><use href="#ck" x="464" y="212"/>
<path class="cn" d="M783,177V223"/><use href="#ck" x="783" y="183"/><use href="#iv" x="783" y="218.5"/>
<path class="cn" d="M702,261H735"/><use href="#ck" x="707" y="261"/><use href="#ih" x="730.5" y="261"/>
<path class="cn" d="M830,261H864"/><use href="#ck" x="835" y="261"/><use href="#ih" x="859.5" y="261"/>
<path class="cn" d="M776,296V329H668V338"/><use href="#ck" x="776" y="301"/><use href="#iv" x="668" y="333.5"/>
<path class="cn" d="M787,296V325H931V339"/><use href="#ck" x="787" y="301"/><use href="#iv" x="931" y="334.5"/>
<path class="cn" d="M782,296V333H816V484"/><use href="#iv" x="782" y="300.5"/><use href="#ck" x="816" y="479"/>
<path class="cn" d="M668,447V491"/><use href="#iv" x="668" y="451.5"/><use href="#ck" x="668" y="486"/>
<path class="cn" d="M728,530H761"/><use href="#ih" x="732.5" y="530"/><use href="#ck" x="756" y="530"/>
<text class="lb" x="43" y="167" textLength="69" lengthAdjust="spacingAndGlyphs">FK_TB_EQ_HOBBIESL_TB_HOBBIESL</text>
<text class="lb" x="157" y="224" textLength="76" lengthAdjust="spacingAndGlyphs">FK_TB_PERSONANATURAL_TB_HOBBIESL</text>
<text class="lb" x="150" y="264" textLength="78" lengthAdjust="spacingAndGlyphs">FK_TB_PERSONANATURAL_TB_TOYTIPER</text>
<text class="lb" x="157" y="280" textLength="86" lengthAdjust="spacingAndGlyphs">FK_TB_PERSONANATURAL_TB_PROFESIONES</text>
<text class="lb" x="11" y="321" textLength="78" lengthAdjust="spacingAndGlyphs">FK_TB_EQ_PROFESION_TB_PROFESIONES</text>
<text class="lb" x="183" y="395" textLength="74" lengthAdjust="spacingAndGlyphs">FK_TB_PERSONANATURAL_TB_GENERO</text>
<text class="lb" x="234" y="385" textLength="73" lengthAdjust="spacingAndGlyphs">FK_TB_PERSONANATURAL_TB_EST_CLI</text>
<text class="lb" x="0" y="467" textLength="64" lengthAdjust="spacingAndGlyphs">FK_TB_VERGENERO_TB_GENERO</text>
<text class="lb" x="295" y="330" textLength="81" lengthAdjust="spacingAndGlyphs">FK_TB_PERSONANATURAL_TB_PERSONAS</text>
<text class="lb" x="307" y="429" textLength="73" lengthAdjust="spacingAndGlyphs">FK_TB_PERSONANATURAL_TB_TIPIDEN</text>
<text class="lb" x="308" y="279" textLength="69" lengthAdjust="spacingAndGlyphs">FK_TB_CONTACTO_TB_PERSONAS</text>
<text class="lb" x="413" y="220" textLength="80" lengthAdjust="spacingAndGlyphs">FK_TB_PERSONAS_TB_PERSONAJURIDICA</text>
<text class="lb" x="723" y="203" textLength="57" lengthAdjust="spacingAndGlyphs">FK_TB_TOYVHC_TB_TOYTICOL</text>
<text class="lb" x="687" y="269" textLength="62" lengthAdjust="spacingAndGlyphs">FK_TB_TOYVHC_tb_versionesveh</text>
<text class="lb" x="824" y="269" textLength="42" lengthAdjust="spacingAndGlyphs">FK_TB_ROL_TB_TOYVHC</text>
<text class="lb" x="691" y="325" textLength="56" lengthAdjust="spacingAndGlyphs">FK_TB_SCORE_TB_TOYVHC</text>
<text class="lb" x="783" y="335" textLength="67" lengthAdjust="spacingAndGlyphs">FK_TB_MODIFICACION_TB_TOYVHC</text>
<text class="lb" x="818" y="365" textLength="72" lengthAdjust="spacingAndGlyphs">FK_TB_TOYVHC_TB_CONCESIONARIO</text>
<text class="lb" x="672" y="453" textLength="50" lengthAdjust="spacingAndGlyphs">FK_TB_SCORE_TB_TOYASE</text>
<text class="lb" x="709" y="525" textLength="68" lengthAdjust="spacingAndGlyphs">FK_TB_TOYASE_TB_CONCESIONARIO</text>
</g>
</svg>
